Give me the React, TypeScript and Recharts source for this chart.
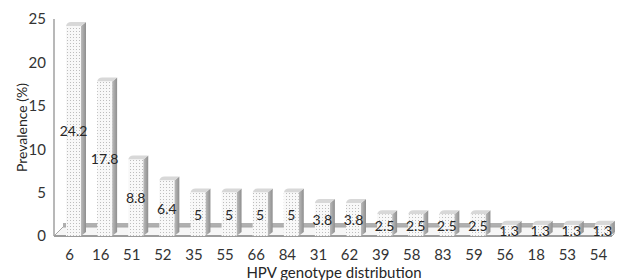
import React from 'react';
import { BarChart, Bar, XAxis, YAxis, ReferenceArea, LabelList, Label } from 'recharts';

const genotypes = ['6', '16', '51', '52', '35', '55', '66', '84', '31', '62', '39', '58', '83', '59', '56', '18', '53', '54'];
const prevalence = [24.2, 17.8, 8.8, 6.4, 5, 5, 5, 5, 3.8, 3.8, 2.5, 2.5, 2.5, 2.5, 1.3, 1.3, 1.3, 1.3];
const yTicks = [0, 5, 10, 15, 20, 25];

const data = genotypes.map((g, i) => ({ genotype: g, value: prevalence[i] }));

const FONT = 'Lato, "Open Sans", sans-serif';
const DEPTH = 5;

// 3D-looking bar: dotted front face, darker side, light top
const Bar3D = (props: any) => {
  const { x, y, width, height } = props;
  if (height == null || width == null) return null;
  const fx = x + 4;
  const d = DEPTH;
  const dy = d * 0.8;
  return (
    <g>
      <path
        d={`M${fx + width},${y} L${fx + width + d},${y - dy} L${fx + width + d},${y + height - dy} L${fx + width},${y + height} Z`}
        fill="url(#sideGrad)"
      />
      <path
        d={`M${fx},${y} Q${fx + 1},${y - dy} ${fx + d},${y - dy} L${fx + width + d - 1},${y - dy} Q${fx + width + d},${y - dy} ${fx + width + d - 1},${y - dy + 1} L${fx + width},${y} Z`}
        fill="#d8d8d8"
      />
      <rect x={fx} y={y} width={width} height={height} fill="url(#dots)" />
    </g>
  );
};

// floor of the 3D plot
const Floor = (props: any) => {
  const { x, width, y, height } = props;
  const zy = y + height;
  const d = 9;
  return (
    <g>
      <rect x={x + d} y={zy - d - 4} width={width - d} height={4} fill="#b0b0b0" />
      <path
        d={`M${x},${zy} L${x + d},${zy - d} L${x + width},${zy - d} L${x + width},${zy - 2} L${x + width - 2},${zy} Z`}
        fill="#f6f6f6"
        stroke="#a6a6a6"
        strokeWidth={1}
      />
      <line x1={x} y1={zy} x2={x + width - 2} y2={zy} stroke="#9c9c9c" strokeWidth={2} />
    </g>
  );
};

const ValueLabel = (props: any) => {
  const { x, y, width, height, value } = props;
  return (
    <text
      x={x + width / 2 + 4}
      y={y + height / 2}
      textAnchor="middle"
      dominantBaseline="central"
      fontFamily={FONT}
      fontSize={14}
      fill="#262626"
    >
      {value}
    </text>
  );
};

const YTitle = (props: any) => {
  const { viewBox } = props;
  const cx = 21;
  const cy = viewBox.y + viewBox.height / 2;
  return (
    <text
      x={cx}
      y={cy}
      transform={`rotate(-90 ${cx} ${cy})`}
      textAnchor="middle"
      dominantBaseline="central"
      fontFamily={FONT}
      fontSize={14}
      fill="#262626"
    >
      Prevalence (%)
    </text>
  );
};

export default function App() {
  return (
    <div style={{ position: 'absolute', left: 0, top: 0, width: 617, height: 280, background: '#fff' }}>
      <svg width={0} height={0} style={{ position: 'absolute' }}>
        <defs>
          <pattern id="dots" width={3} height={3} patternUnits="userSpaceOnUse">
            <rect width={3} height={3} fill="#f8f8f8" />
            <rect x={1} y={1} width={1} height={1} fill="#bdbdbd" />
          </pattern>
          <linearGradient id="sideGrad" x1="0" y1="0" x2="1" y2="0">
            <stop offset="0%" stopColor="#bcbcbc" />
            <stop offset="100%" stopColor="#8e8e8e" />
          </linearGradient>
        </defs>
      </svg>
      <BarChart
        width={617}
        height={280}
        data={data}
        margin={{ top: 19, right: 3, bottom: 0, left: 0 }}
        barCategoryGap={8}
      >
        <ReferenceArea y1={0} y2={1} shape={<Floor />} />
        <XAxis
          dataKey="genotype"
          axisLine={false}
          tickLine={false}
          height={44}
          tickMargin={7}
          interval={0}
          tick={{ fill: '#333', fontSize: 15, fontFamily: FONT }}
        >
          <Label
            value="HPV genotype distribution"
            position="insideBottom"
            offset={2}
            style={{ fill: '#262626', fontSize: 15, fontFamily: FONT }}
          />
        </XAxis>
        <YAxis
          domain={[0, 25]}
          ticks={yTicks}
          width={54}
          axisLine={{ stroke: '#a0a0a0', strokeWidth: 1.5 }}
          tickLine={false}
          tick={{ fill: '#333', fontSize: 15, fontFamily: FONT }}
        >
          <Label content={<YTitle />} />
        </YAxis>
        <Bar dataKey="value" shape={<Bar3D />} isAnimationActive={false}>
          <LabelList dataKey="value" content={<ValueLabel />} />
        </Bar>
      </BarChart>
    </div>
  );
}
